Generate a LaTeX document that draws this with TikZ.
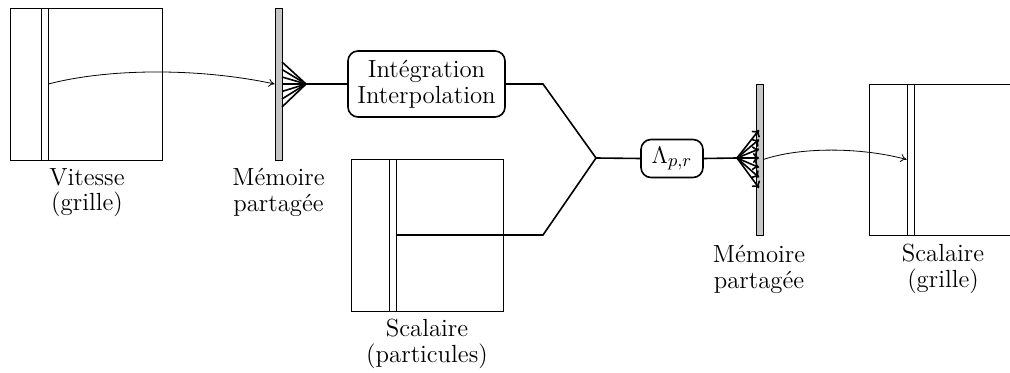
\documentclass[tikz,border=0pt]{standalone}
\usetikzlibrary{arrows.meta}
\begin{document}
\begin{tikzpicture}[x=0.5pt,y=-0.5pt,
  txt/.style={font=\fontsize{12.4}{12.8}\selectfont},
  grid/.style={draw,line width=0.4pt,minimum width=76pt,minimum height=76pt,inner sep=0pt},
  strip/.style={draw,line width=0.4pt,minimum width=3.5pt,minimum height=76pt,inner sep=0pt},
  membar/.style={draw,fill=gray!45,line width=0.4pt,minimum width=3.5pt,minimum height=76pt,inner sep=0pt},
  opbox/.style={draw,rounded corners=5pt,line width=0.8pt,align=center,inner sep=0pt,txt},
  lab/.style={txt,align=center,anchor=north,inner sep=0pt},
  conn/.style={line width=0.8pt},
  fanl/.style={line width=0.8pt},
  thinarr/.style={-{To[length=3pt,width=4pt]},line width=0.4pt}]
\useasboundingbox (0,0) rectangle (1010,373);
\clip (0,0) rectangle (1010,373);
% Vitesse (grille)
\node[grid] (v) at (86,84) {};
\node[strip] (vs) at (44.5,84) {};
\node[lab] (vl) at (87,168) {Vitesse\\(grille)};
% memory bar 1
\node[membar] (m1) at (278.5,84) {};
\node[lab] (m1l) at (278.5,168) {M\'emoire\\partag\'ee};
\coordinate (f1) at (306,84);
\draw[thinarr] (vs.east) .. controls (110,68) and (200,68) .. (m1.west);
\foreach \yy in {62,69.5,77,84,91.5,99,107}{
  \coordinate (p1) at (282,\yy);
  \draw[fanl] (p1) -- (f1);
}
% Integration box
\node[opbox,minimum width=78.5pt,minimum height=33pt] (ii) at (426.5,84) {Int\'egration\\Interpolation};
\draw[conn] (f1) -- (ii.west);
% Scalaire (particules)
\node[grid] (sp) at (427,235) {};
\node[strip] (sps) at (392.5,235) {};
\node[lab] (spl) at (427,319) {Scalaire\\(particules)};
\coordinate (j1) at (543,84);
\coordinate (j2) at (543,235);
\coordinate (mm) at (596,158);
\draw[conn] (ii.east) -- (j1) -- (mm);
\draw[conn] (sps.east) -- (j2) -- (mm);
% Lambda box
\node[opbox,minimum width=31pt,minimum height=19pt] (lam) at (672,158.5) {$\Lambda_{p,r}$};
\draw[conn] (mm) -- (lam.west);
\coordinate (f2) at (737,158);
\draw[conn] (lam.east) -- (f2);
% memory bar 2
\node[membar,minimum height=75.5pt] (m2) at (759.5,159.5) {};
\node[lab] (m2l) at (759,245) {M\'emoire\\partag\'ee};
\foreach \yy in {130,139.5,149,158,167.5,177.5,188}{
  \coordinate (p2) at (759,\yy);
  \draw[fanl,-{To[length=3pt,width=5pt]}] (f2) -- (p2);
}
% Scalaire (grille)
\node[grid,minimum height=75.5pt] (sg) at (945,159.5) {};
\node[strip,minimum height=75.5pt] (sgs) at (910.5,159.5) {};
\node[lab] (sgl) at (943,244) {Scalaire\\(grille)};
\draw[thinarr] (m2.east) .. controls (800,147) and (860,147) .. (sgs.west);
\end{tikzpicture}
\end{document}
